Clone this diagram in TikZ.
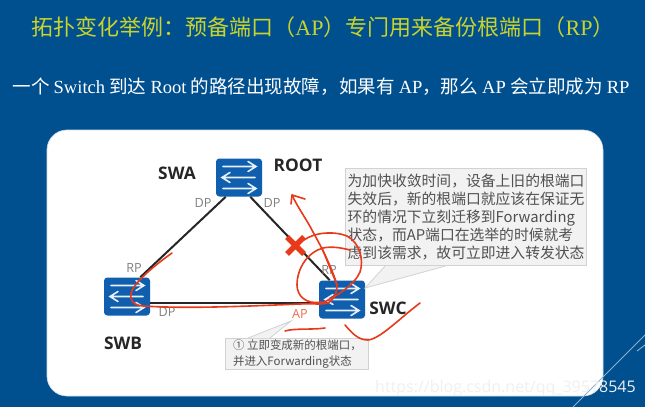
\documentclass[tikz,border=0pt]{standalone}
\usepackage{fontspec}
\setmainfont{Noto Sans CJK SC}
\newfontfamily\serf{Liberation Serif}
\newfontfamily\sanb{Open Sans}
\usetikzlibrary{calc}
\newcommand\fwcomma{\symbol{"FF0C}}
\newcommand\fwcolon{\symbol{"FF1A}}
\newcommand\fwopen{\symbol{"FF08}}
\newcommand\fwclose{\symbol{"FF09}}
\definecolor{bgblue}{HTML}{00508F}
\definecolor{swblue}{HTML}{0F5FAE}
\definecolor{titley}{HTML}{C9D32C}
\definecolor{notefill}{HTML}{F2F2F2}
\definecolor{noteline}{HTML}{D2D2D2}
\definecolor{notetext}{HTML}{505050}
\definecolor{redink}{HTML}{E8391A}
\definecolor{portgray}{HTML}{808080}
\tikzset{
  x=0.75pt,y=-0.75pt,
  switchbox/.style={fill=swblue,rounded corners=2.5pt,minimum width=34.5pt,minimum height=28.5pt,inner sep=0pt},
  swlabel/.style={font=\sanb\bfseries\fontsize{13}{15}\selectfont,text=black!85,inner sep=0pt},
  portlabel/.style={font=\sanb\fontsize{9.5}{11}\selectfont,text=portgray,inner sep=0pt},
  linkline/.style={draw=black!85,line width=1.5pt},
  inkline/.style={draw=redink,line width=1.2pt,line cap=round,line join=round},
  notebox/.style={fill=notefill,draw=noteline,line width=0.6pt,align=left,inner sep=0pt,text=notetext},
  wa/.style={draw=white!90!swblue,line width=1.2pt,line cap=round},
  pics/swarrows/.style={code={
    \draw[wa] (-16,-11)--(17,-11) (9,-16)--(17,-11)--(9,-6);
    \draw[wa] (16,0)--(-17,0) (-9,-5)--(-17,0)--(-9,5);
    \draw[wa] (-16,11)--(17,11) (9,6)--(17,11)--(9,16);
  }}
}
\begin{document}
\begin{tikzpicture}
\useasboundingbox (0,0) rectangle (645,407);
\fill[bgblue] (0,0) rectangle (645,407);
% slide text
\node[text=titley,inner sep=0pt,font=\fontsize{16.5}{18}\selectfont] (title) at (323,27)
  {拓扑变化举例\fwcolon 预备端口\fwopen{\serf AP}\fwclose 专门用来备份根端口\fwopen{\serf RP}\fwclose};
\node[text=white,inner sep=0pt,font=\fontsize{13.9}{16}\selectfont] (sub) at (321,87)
  {一个 {\serf Switch} 到达 {\serf Root} 的路径出现故障\fwcomma 如果有 {\serf AP}\fwcomma 那么 {\serf AP} 会立即成为 {\serf RP}};
% panel
\fill[white,draw=white!80!bgblue,line width=0.5pt,rounded corners=15pt] (47,130) rectangle (603,396);
% corner lines
\coordinate (c1) at (573,407); \coordinate (c2) at (645,335);
\coordinate (c3) at (637,351); \coordinate (c4) at (645,345);
\draw[white!55!bgblue,line width=0.7pt] (c1)--(c2) (c3)--(c4);
% switches
\node[switchbox] (swa) at (239,177.5) {};
\node[switchbox] (swb) at (127,296.5) {};
\node[switchbox] (swc) at (342,299.5) {};
% links
\draw[linkline] (swa.south west)++(10,0) -- ($(swb.north east)+(-10,0)$);
\draw[linkline] (swa.south east)++(-12,0) -- ($(swc.north west)+(11,0)$);
\draw[linkline] ($(swb.east)+(0,6.5)$) -- ($(swc.west)+(0,3.5)$);
\foreach \n in {swa,swb,swc} \pic at (\n) {swarrows};
% labels
\node[swlabel] (la) at (177,173) {SWA};
\node[swlabel] (lr) at (298,165) {ROOT};
\node[swlabel] (lb) at (123,343) {SWB};
\node[swlabel] (lc) at (388,308) {SWC};
\node[portlabel] (p1) at (203,203) {DP};
\node[portlabel] (p2) at (272,203) {DP};
\node[portlabel] (p3) at (134,268) {RP};
\node[portlabel] (p4) at (167,312) {DP};
\node[portlabel] (p5) at (329,270) {RP};
\node[portlabel,text=redink!75] (p6) at (300,314) {AP};
% upper note
\node[notebox,font=\fontsize{11.1}{13.5}\selectfont,anchor=north west,minimum width=180.5pt,minimum height=73pt] (note) at (345,168)
  {\hspace{0.5pt}为加快收敛时间\fwcomma 设备上旧的根端口\\
   \hspace{0.5pt}失效后\fwcomma 新的根端口就应该在保证无\\
   \hspace{0.5pt}环的情况下立刻迁移到Forwarding\\
   \hspace{0.5pt}状态\fwcomma 而AP端口在选举的时候就考\\
   \hspace{0.5pt}虑到该需求\fwcomma 故可立即进入转发状态};
\coordinate (nt) at (365,288);
\fill[notefill] ($(note.south west)+(40,0)$) -- (nt) -- ($(note.south west)+(100,0)$) -- cycle;
\draw[noteline,line width=0.6pt] ($(note.south west)+(40,0)$) -- (nt) -- ($(note.south west)+(100,0)$);
% lower note
\node[notebox,font=\fontsize{8.6}{12}\selectfont,anchor=north west,minimum width=107pt,minimum height=23.5pt] (low) at (225,338)
  {\hspace{1pt}① 立即变成新的根端口\fwcomma\\ \hspace{1pt}并进入Forwarding状态};
\coordinate (lt) at (291,321);
\fill[notefill] ($(low.north west)+(23,0)$) -- (lt) -- ($(low.north west)+(45,0)$) -- cycle;
\draw[noteline,line width=0.6pt] ($(low.north west)+(23,0)$) -- (lt) -- ($(low.north west)+(45,0)$);
% red ink
\draw[inkline] (172,253) .. controls (155,265) and (140,278) .. (134,287)
  .. controls (128,296) and (130,305) .. (143,306)
  .. controls (190,309) and (250,306) .. (300,304)
  .. controls (315,303) and (325,306) .. (331,301)
  .. controls (336,296) and (337,290) .. (337,285)
  .. controls (332,268) and (322,248) .. (313,232)
  .. controls (307,220) and (298,208) .. (292,195);
\draw[inkline] (292,195) -- (291,204) (292,195) -- (305,199);
\draw[inkline] (322,302) .. controls (305,305) and (297,295) .. (297,285)
  .. controls (297,268) and (308,252) .. (323,248)
  .. controls (332,246) and (342,248) .. (350,250);
\draw[inkline] (304,240) .. controls (315,232) and (335,231) .. (347,236)
  .. controls (360,243) and (364,260) .. (360,272)
  .. controls (355,284) and (338,296) .. (320,304);
\draw[inkline] (322,248) -- (337,285);
\draw[inkline] (345,325) .. controls (352,333) and (358,340) .. (368,340)
  .. controls (380,339) and (400,318) .. (420,303);
\draw[inkline] (285,331) .. controls (295,328) and (312,330) .. (325,328);
% cross
\draw[redink,line width=4.2pt] (287,237) -- (304,254) (304,237) -- (287,254);
% watermark
\node[text=white!88!gray,inner sep=0pt,font=\sanb\fontsize{12}{14}\selectfont,anchor=east] (wm) at (636,388) {https://blog.csdn.net/qq\_39578545};
\end{tikzpicture}
\end{document}
